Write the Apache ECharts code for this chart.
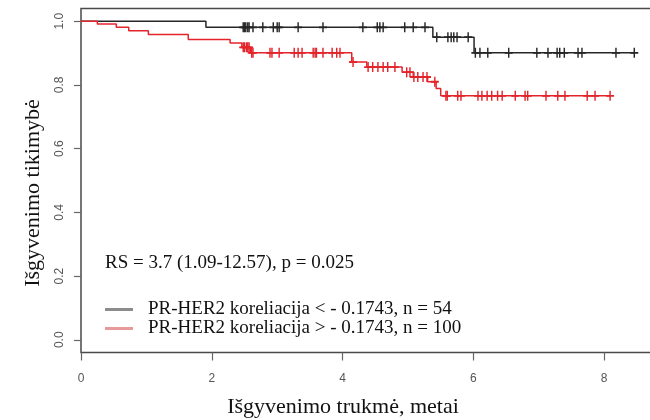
<!DOCTYPE html>
<html>
<head>
<meta charset="utf-8">
<script src="https://cdn.jsdelivr.net/npm/echarts@6/dist/echarts.min.js"></script>
<style>
  html, body { margin: 0; padding: 0; background: #fff; }
  #chart { width: 650px; height: 420px; }
</style>
</head>
<body>
<div id="chart"></div>
<script>
// Kaplan–Meier curves: [time in years, survival probability] at each event step
const lowGroupName = 'PR-HER2 koreliacija < - 0.1743, n = 54';
const highGroupName = 'PR-HER2 koreliacija > - 0.1743, n = 100';

const lowSteps = [[0, 1], [1.91, 0.981], [5.38, 0.950], [6.01, 0.901], [8.46, 0.901]];
const highSteps = [
  [0, 1], [0.25, 0.991], [0.54, 0.981], [0.73, 0.970], [1.03, 0.958],
  [1.64, 0.943], [2.28, 0.932], [2.46, 0.918], [2.59, 0.901], [4.14, 0.872],
  [4.37, 0.856], [4.91, 0.840], [5.08, 0.825], [5.30, 0.810], [5.43, 0.789],
  [5.50, 0.766], [8.09, 0.766]
];

// Censoring times (years)
const lowCensored = [
  2.48, 2.50, 2.52, 2.55, 2.57, 2.63, 2.78, 2.94, 3.00, 3.03, 3.32, 3.70,
  4.31, 4.53, 4.57, 4.62, 4.95, 5.08, 5.26, 5.44, 5.61, 5.66, 5.70, 5.75,
  5.92, 6.03, 6.10, 6.22, 6.54, 6.97, 7.14, 7.28, 7.32, 7.39, 7.60, 7.66,
  8.18, 8.46
];
const highCensored = [
  2.48, 2.50, 2.53, 2.55, 2.57, 2.61, 2.63, 2.89, 2.92, 3.03, 3.26, 3.32,
  3.38, 3.55, 3.58, 3.60, 3.70, 3.84, 3.91, 3.96, 4.16, 4.39, 4.46, 4.54,
  4.62, 4.69, 4.80, 4.98, 5.03, 5.09, 5.15, 5.23, 5.29, 5.41, 5.58, 5.60,
  5.76, 5.81, 6.07, 6.13, 6.21, 6.28, 6.37, 6.44, 6.64, 6.79, 6.83, 7.11,
  7.29, 7.40, 7.74, 7.86, 8.09
];

const xTicks = [0, 2, 4, 6, 8];
const yTicks = [0, 0.2, 0.4, 0.6, 0.8, 1.0];
const yTickLabels = ['0.0', '0.2', '0.4', '0.6', '0.8', '1.0'];

const statText = 'RS = 3.7 (1.09-12.57), p = 0.025';
const xTitle = 'Išgyvenimo trukmė, metai';
const yTitle = 'Išgyvenimo tikimybė';

// survival value of a step curve at time t
function survivalAt(steps, t) {
  let s = steps[0][1];
  for (const [tt, v] of steps) { if (tt <= t) s = v; }
  return s;
}
const censorPoints = (steps, times) => times.map(t => [t, survivalAt(steps, t)]);

const BLACK = '#262626';
const RED = '#e3242b';
const SERIF = '"Liberation Serif", "Times New Roman", serif';
const SANS = '"Liberation Sans", Arial, sans-serif';
const PLUS = 'path://M0,-5L0,5M-5,0L5,0';

const chart = echarts.init(document.getElementById('chart'), null, { renderer: 'canvas' });

chart.setOption({
  animation: false,
  backgroundColor: '#fff',
  grid: {
    left: 81, top: 8.5, width: 588.6, height: 344,
    containLabel: false, outerBoundsMode: 'none',
    show: true, borderColor: '#4a4a4a', borderWidth: 1.5, backgroundColor: 'transparent'
  },
  title: {
    text: statText, left: 105, top: 253, padding: 0,
    textStyle: { fontFamily: SERIF, fontSize: 19, fontWeight: 'normal', color: '#111', lineHeight: 20 }
  },
  legend: {
    orient: 'vertical', left: 105, top: 300, padding: 0,
    itemWidth: 28, itemHeight: 3, itemGap: 0,
    icon: 'rect', selectedMode: false,
    textStyle: { fontFamily: SERIF, fontSize: 19, color: '#111', lineHeight: 17, padding: [0, 0, 0, 10] },
    data: [
      { name: lowGroupName, itemStyle: { color: '#8c8c8c' } },
      { name: highGroupName, itemStyle: { color: '#e79a9a' } }
    ]
  },
  xAxis: {
    type: 'value', min: 0, max: 9,
    axisLine: { show: false, onZero: false },
    splitLine: { show: false },
    axisTick: { show: true, inside: false, customValues: xTicks, length: 8, lineStyle: { color: '#666', width: 1.2 } },
    axisLabel: { customValues: xTicks, margin: 20, fontSize: 12, color: '#555', fontFamily: SANS }
  },
  yAxis: {
    type: 'value', min: -0.04, max: 1.04,
    axisLine: { show: false, onZero: false },
    splitLine: { show: false },
    axisTick: { show: true, inside: false, customValues: yTicks, length: 7, lineStyle: { color: '#666', width: 1.2 } },
    axisLabel: {
      customValues: yTicks, rotate: 90, margin: 15, fontSize: 12, color: '#555', fontFamily: SANS,
      formatter: v => yTickLabels[yTicks.findIndex(y => Math.abs(y - v) < 1e-9)]
    }
  },
  graphic: [
    {
      type: 'text', x: 33, y: 193, rotation: Math.PI / 2,
      style: { text: yTitle, font: '22px ' + SERIF, fill: '#111', align: 'center', verticalAlign: 'middle' }
    },
    {
      type: 'text', x: 343, y: 407,
      style: { text: xTitle, font: '22px ' + SERIF, fill: '#111', align: 'center', verticalAlign: 'middle' }
    }
  ],
  series: [
    {
      name: lowGroupName, type: 'line', step: 'end', data: lowSteps, symbol: 'none',
      lineStyle: { color: BLACK, width: 1.5 }, itemStyle: { color: BLACK }, z: 3
    },
    {
      name: highGroupName, type: 'line', step: 'end', data: highSteps, symbol: 'none',
      lineStyle: { color: RED, width: 1.5 }, itemStyle: { color: RED }, z: 3
    },
    {
      name: 'low-censored', type: 'scatter', data: censorPoints(lowSteps, lowCensored),
      symbol: PLUS, symbolSize: [8, 10],
      itemStyle: { color: BLACK, borderColor: BLACK, borderWidth: 1.6, opacity: 1 }, z: 4
    },
    {
      name: 'high-censored', type: 'scatter', data: censorPoints(highSteps, highCensored),
      symbol: PLUS, symbolSize: [8, 10],
      itemStyle: { color: RED, borderColor: RED, borderWidth: 1.6, opacity: 1 }, z: 4
    }
  ]
});
</script>
</body>
</html>
